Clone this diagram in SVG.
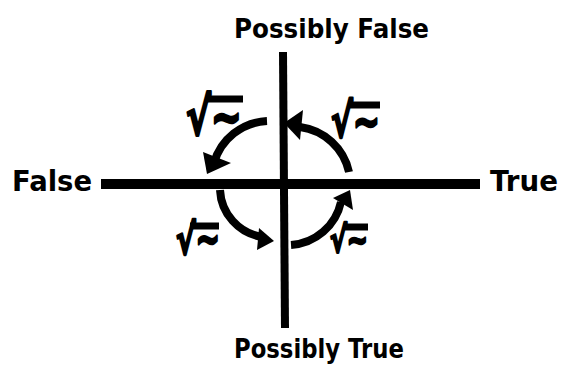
<svg xmlns="http://www.w3.org/2000/svg" width="566" height="374" viewBox="0 0 566 374">
<style>
.lbl{font-family:"DejaVu Sans","Liberation Sans",sans-serif;font-weight:bold;fill:#000}
.ax{stroke:#000;stroke-linecap:butt;fill:none}
.arc{stroke:#000;stroke-width:8;fill:none}
.head{fill:#000}
.rt{font-family:"DejaVu Sans","Liberation Sans",sans-serif;font-weight:bold;fill:#000;stroke:#000;stroke-width:2.5;stroke-linejoin:round}
.bar{stroke:#000;stroke-width:7}
</style>
<rect width="566" height="374" fill="#fff"/>
<g id="axes">
<line class="ax" x1="101" y1="184" x2="480" y2="184" stroke-width="10"/>
<line class="ax" x1="283" y1="52" x2="285" y2="328" stroke-width="8"/>
</g>
<g id="label-false"><text class="lbl" x="12" y="191" font-size="29" textLength="80" lengthAdjust="spacingAndGlyphs">False</text></g>
<g id="label-true"><text class="lbl" x="490" y="191" font-size="29" textLength="68" lengthAdjust="spacingAndGlyphs">True</text></g>
<g id="label-pfalse"><text class="lbl" x="234" y="38" font-size="27" textLength="195" lengthAdjust="spacingAndGlyphs">Possibly False</text></g>
<g id="label-ptrue"><text class="lbl" x="234" y="358" font-size="27" textLength="170" lengthAdjust="spacingAndGlyphs">Possibly True</text></g>
<g id="connectors">
<path class="arc" d="M267,121 A58,58 0 0,0 214,163"/>
<polygon class="head" points="207,174 203,152 231,163"/>
<path class="arc" d="M349,172 A58,58 0 0,0 300,127"/>
<polygon class="head" points="284,123 303,110 300,140"/>
<path class="arc" d="M220,190 A50,50 0 0,0 262,237"/>
<polygon class="head" points="274,241 259,228 257,250"/>
<path class="arc" d="M291,245 A55,55 0 0,0 341,202"/>
<polygon class="head" points="350,190 333,198 353,210"/>
</g>
<g id="root-tl">
<text class="rt" x="186" y="135" font-size="52" textLength="56" lengthAdjust="spacingAndGlyphs">√~</text>
<line class="bar" x1="206" y1="99" x2="243" y2="99"/>
</g>
<g id="root-tr">
<text class="rt" x="331" y="137" font-size="47" textLength="49" lengthAdjust="spacingAndGlyphs">√~</text>
<line class="bar" x1="348" y1="105" x2="380" y2="105"/>
</g>
<g id="root-bl">
<text class="rt" x="176" y="254" font-size="42" textLength="44" lengthAdjust="spacingAndGlyphs">√~</text>
<line class="bar" x1="190" y1="226" x2="219" y2="226"/>
</g>
<g id="root-br">
<text class="rt" x="330" y="252" font-size="36" textLength="38" lengthAdjust="spacingAndGlyphs">√~</text>
<line class="bar" x1="343" y1="227" x2="368" y2="227"/>
</g>
</svg>
